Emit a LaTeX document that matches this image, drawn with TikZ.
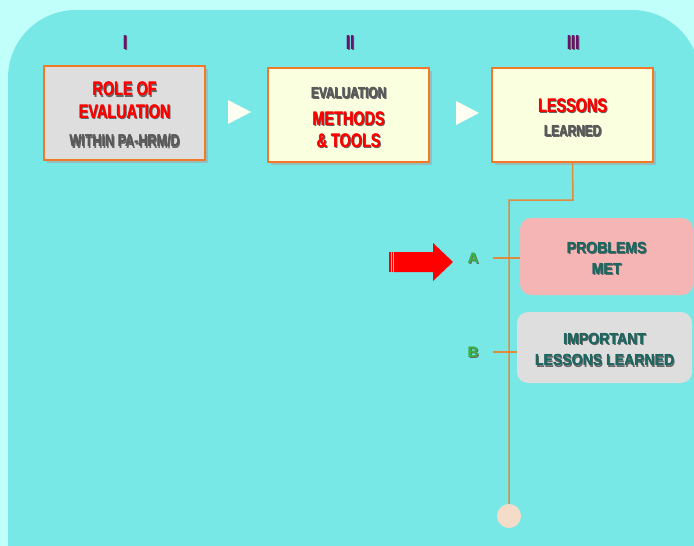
\documentclass[tikz,border=0pt]{standalone}
\usepackage{fontspec}
\setmainfont{Liberation Sans}
\newfontfamily\stagefont[FakeStretch=0.74]{Liberation Sans}
\newfontfamily\itemfont[FakeStretch=0.88]{Liberation Sans}
\usetikzlibrary{shadows}
\definecolor{outerbg}{HTML}{C0FFFA}
\definecolor{innerbg}{HTML}{78E8E6}
\definecolor{boxorange}{HTML}{F07A28}
\definecolor{lineorange}{HTML}{E28A3C}
\definecolor{greybox}{HTML}{DEDEDE}
\definecolor{creambox}{HTML}{FAFFE0}
\definecolor{pinkbox}{HTML}{F5B5B5}
\definecolor{romanpurple}{HTML}{6A1070}
\definecolor{tealtext}{HTML}{1E6660}
\definecolor{labelgreen}{HTML}{3CB048}
\definecolor{dotpeach}{HTML}{F5DCC8}
% text with a soft shadow, set a little heavier
\newcommand{\shd}[2]{\makebox[0pt][l]{\kern1.2pt\raisebox{-1.2pt}{\color{black!60}#2}}\makebox[0pt][l]{\kern0.4pt\textcolor{#1}{#2}}\textcolor{#1}{#2}}
\begin{document}
\begin{tikzpicture}[x=1pt,y=-1pt,font=\bfseries,
  stage/.style={draw=boxorange,line width=1.2pt,minimum width=161pt,minimum height=94pt,
    align=center,font=\stagefont\bfseries\fontsize{19.5}{22.5}\selectfont,
    drop shadow={shadow xshift=3pt,shadow yshift=-3pt,fill=black!35,opacity=0.6}},
  result/.style={rounded corners=11pt,align=center,font=\itemfont\bfseries\fontsize{16}{21.5}\selectfont},
  roman/.style={text=romanpurple,font=\stagefont\bfseries\fontsize{20}{22}\selectfont},
  letter/.style={text=labelgreen,font=\bfseries\fontsize{15}{17}\selectfont},
  link/.style={draw=lineorange,line width=1.5pt}]
\useasboundingbox (0,0) rectangle (694,546);
\fill[outerbg] (0,0) rectangle (694,546);
\fill[innerbg,rounded corners=68pt] (8,10) rectangle (700,620);
% headings
\node[roman] (r1) at (125,43) {\shd{romanpurple}{I}};
\node[roman] (r2) at (350,43) {\shd{romanpurple}{II}};
\node[roman] (r3) at (573,43) {\shd{romanpurple}{III}};
% the three stages
\node[stage,fill=greybox] (s1) at (124.5,113) {\rule{0pt}{18.3pt}\shd{red}{ROLE OF}\\\shd{red}{EVALUATION}\\[6pt]{\fontsize{17}{22.5}\selectfont\shd{black!65}{WITHIN PA-HRM/D}}};
\node[stage,fill=creambox] (s2) at (348.5,115) {{\fontsize{16}{22.5}\selectfont\rule{0pt}{17.7pt}\shd{black!65}{EVALUATION}}\\[4pt]\shd{red}{METHODS}\\\shd{red}{\& TOOLS}};
\node[stage,fill=creambox] (s3) at (572.5,115) {\rule{0pt}{20pt}\shd{red}{LESSONS}\\[2pt]{\fontsize{16}{22.5}\selectfont\shd{black!65}{LEARNED}}};
\fill[white!95!yellow] (228,100) -- (251,112) -- (228,124) -- cycle;
\fill[white!95!yellow] (456,101) -- (479,113) -- (456,125) -- cycle;
% sub items
\node[result,fill=pinkbox,minimum width=173pt,minimum height=77pt] (pa) at (606.5,256.5) {\rule{0pt}{15.7pt}\shd{tealtext}{PROBLEMS}\\\shd{tealtext}{MET}};
\node[result,fill=greybox,minimum width=175pt,minimum height=71pt] (pb) at (604.5,347.5) {\rule{0pt}{16.5pt}\shd{tealtext}{IMPORTANT}\\\shd{tealtext}{LESSONS LEARNED}};
\node[letter] (la) at (473,259) {\shd{labelgreen}{A}};
\node[letter] (lb) at (473,353) {\shd{labelgreen}{B}};
\node[circle,fill=dotpeach,minimum size=24pt,inner sep=0pt] (end) at (509,516) {};
\coordinate (ta) at (493,258);
\coordinate (tb) at (493,352);
\draw[link] (s3.south) -- (573,200) -| (end.north);
\draw[link] (ta) -- (pa.west |- ta);
\draw[link] (tb) -- (pb.west |- tb);
% red pointer
\fill[red] (394,252) -- (433,252) -- (433,243) -- (453,262) -- (433,281) -- (433,272) -- (394,272) -- cycle;
\fill[red] (389.3,252) rectangle (390.7,272);
\fill[red] (391.9,252) rectangle (393.3,272);
\end{tikzpicture}
\end{document}
